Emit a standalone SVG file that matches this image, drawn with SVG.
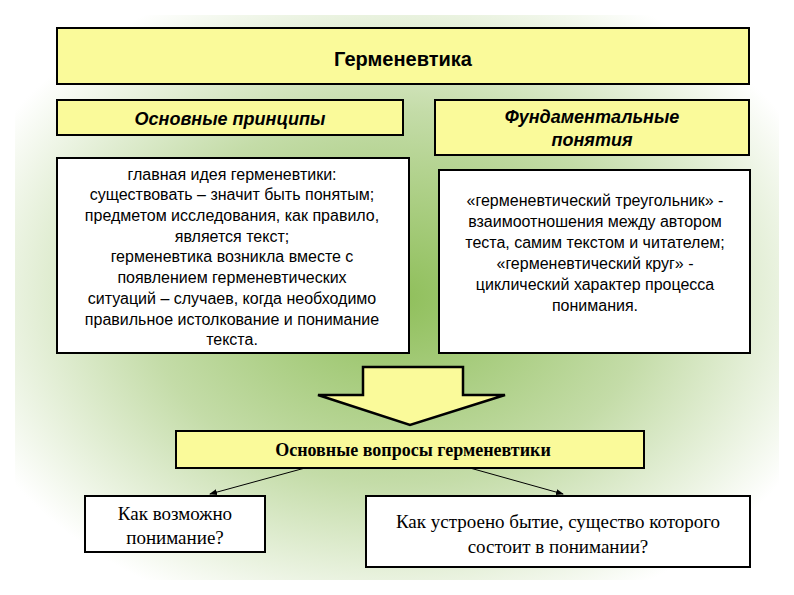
<svg xmlns="http://www.w3.org/2000/svg" width="794" height="595" viewBox="0 0 794 595">
<defs>
<radialGradient id="bg" cx="0.5" cy="0.5" r="0.6">
<stop offset="0" stop-color="#8fbf5a"/>
<stop offset="0.55" stop-color="#c4dca8"/>
<stop offset="1" stop-color="#ffffff"/>
</radialGradient>
<marker id="ah" markerWidth="8" markerHeight="8" refX="7" refY="4" orient="auto" markerUnits="userSpaceOnUse"><path d="M0,1 L8,4 L0,7 Z" fill="#000"/></marker>
</defs>
<style>
.y{fill:#fafa9a;stroke:#000;stroke-width:2}
.w{fill:#fff;stroke:#000;stroke-width:2}
.t{font-family:"Liberation Sans",Arial,sans-serif;font-size:16px;fill:#000;text-anchor:middle}
.h{font-family:"Liberation Sans",Arial,sans-serif;fill:#000;text-anchor:middle;font-weight:bold}
.s{font-family:"Liberation Serif","Times New Roman",serif;fill:#000;text-anchor:middle}
</style>
<rect width="794" height="595" fill="#fff"/>
<rect x="15" y="15" width="764" height="565" fill="url(#bg)"/>
<g id="title"><rect class="y" x="57" y="28" width="692" height="56"/><text class="h" x="403" y="66" font-size="20">Герменевтика</text></g>
<g id="principles"><rect class="y" x="57" y="100" width="346" height="35"/><text class="h" x="230" y="125" font-size="18" font-style="italic">Основные принципы</text></g>
<g id="concepts"><rect class="y" x="435" y="100" width="314" height="55"/><text class="h" x="592" y="123" font-size="18" font-style="italic">Фундаментальные</text><text class="h" x="592" y="146" font-size="18" font-style="italic">понятия</text></g>
<g id="principlesText"><rect class="w" x="57" y="158" width="352" height="195"/>
<text class="t"><tspan x="232" y="180">главная идея герменевтики:</tspan><tspan x="232" y="200">существовать – значит быть понятым;</tspan><tspan x="232" y="221">предметом  исследования, как правило,</tspan><tspan x="232" y="242">является текст;</tspan><tspan x="232" y="262">герменевтика возникла вместе с</tspan><tspan x="232" y="283">появлением герменевтических</tspan><tspan x="232" y="304">ситуаций – случаев, когда необходимо</tspan><tspan x="232" y="325">правильное истолкование и понимание</tspan><tspan x="232" y="345">текста.</tspan></text></g>
<g id="conceptsText"><rect class="w" x="439" y="170" width="311" height="183"/>
<text class="t"><tspan x="595" y="206">«герменевтический треугольник» -</tspan><tspan x="595" y="227">взаимоотношения между автором</tspan><tspan x="595" y="248">теста, самим текстом и читателем;</tspan><tspan x="595" y="269">«герменевтический круг» -</tspan><tspan x="595" y="290">циклический характер процесса</tspan><tspan x="595" y="311">понимания.</tspan></text></g>
<g id="bigArrow"><path d="M363,367 L463,367 L463,395 L505,395 L410,425 L318,395 L363,395 Z" fill="#fafa9a" stroke="#000" stroke-width="2.5"/></g>
<g id="questions"><rect class="y" x="176" y="431" width="468" height="37"/><text class="s" x="413" y="456" font-size="18" font-weight="bold">Основные вопросы герменевтики</text></g>
<g id="q1"><rect class="w" x="85" y="496" width="180" height="56"/><text class="s" font-size="19"><tspan x="175" y="520">Как возможно</tspan><tspan x="175" y="544">понимание?</tspan></text></g>
<g id="q2"><rect class="w" x="366" y="496" width="384" height="71"/><text class="s" font-size="19"><tspan x="558" y="528">Как устроено бытие, существо которого</tspan><tspan x="558" y="553">состоит в понимании?</tspan></text></g>
<g id="connectors" stroke="#000" stroke-width="1" fill="none">
<line x1="305" y1="468" x2="210" y2="494" marker-end="url(#ah)"/>
<line x1="470" y1="468" x2="563" y2="494" marker-end="url(#ah)"/>
</g>
</svg>
